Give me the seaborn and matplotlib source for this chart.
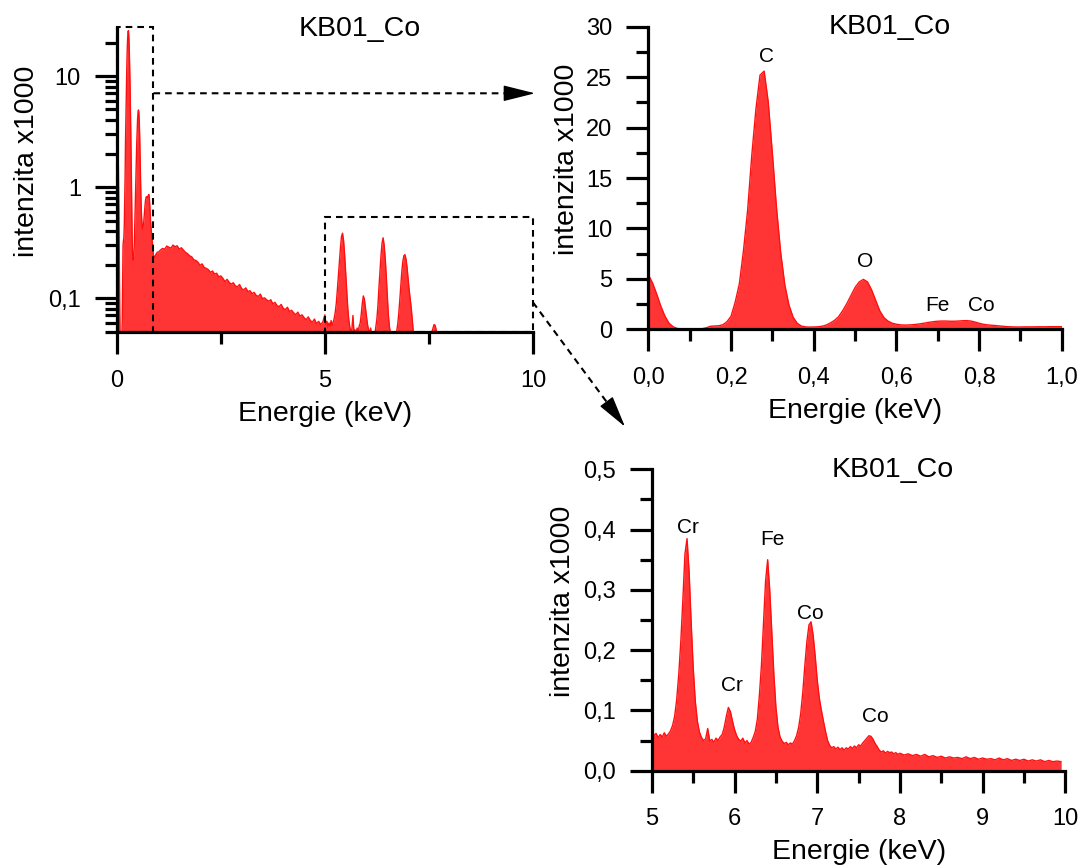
import numpy as np
import matplotlib
matplotlib.use("Agg")
import matplotlib.pyplot as plt
from matplotlib.patches import Rectangle, FancyArrowPatch
from matplotlib.lines import Line2D
from matplotlib.ticker import FixedLocator, MultipleLocator, LogLocator, FuncFormatter, NullFormatter
import seaborn as sns

# ---------------- spectrum data (intensity x1000) ----------------
# 0.00 - 1.00 keV, 0.01 keV channels
energy_low = np.round(np.arange(101) * 0.01, 3)
counts_low = [
    5.4, 4.6, 3.5, 2.3, 1.3, 0.6, 0.25, 0.08, 0.04, 0.035,
    0.035, 0.035, 0.04, 0.06, 0.15, 0.3, 0.33, 0.35, 0.45, 0.75,
    1.3, 2.7, 4.5, 7.8, 11.8, 17.2, 21.8, 25.2, 25.6, 22.5,
    17.4, 12.0, 7.6, 4.4, 2.4, 1.2, 0.6, 0.32, 0.24, 0.22,
    0.23, 0.25, 0.3, 0.42, 0.62, 0.88, 1.25, 1.85, 2.55, 3.35,
    4.15, 4.7, 4.95, 4.7, 3.9, 2.85, 1.8, 1.15, 0.8, 0.6,
    0.5, 0.44, 0.42, 0.43, 0.46, 0.5, 0.56, 0.63, 0.7, 0.76,
    0.8, 0.82, 0.82, 0.8, 0.8, 0.82, 0.85, 0.86, 0.82, 0.72,
    0.6, 0.5, 0.44, 0.4, 0.37, 0.33, 0.29, 0.26, 0.24, 0.23,
    0.23, 0.24, 0.24, 0.24, 0.25, 0.25, 0.25, 0.26, 0.26, 0.26,
    0.26,
]

# 1.05 - 4.95 keV bremsstrahlung continuum, 0.05 keV channels
energy_mid = np.round(1.05 + np.arange(79) * 0.05, 3)
counts_mid = [
    0.272, 0.281, 0.276, 0.295, 0.288, 0.283, 0.301, 0.291, 0.297, 0.276,
    0.285, 0.272, 0.259, 0.252, 0.241, 0.236, 0.222, 0.219, 0.211, 0.198,
    0.204, 0.189, 0.186, 0.181, 0.171, 0.176, 0.165, 0.168, 0.156, 0.159,
    0.151, 0.141, 0.148, 0.139, 0.134, 0.138, 0.129, 0.127, 0.133, 0.122,
    0.119, 0.124, 0.115, 0.117, 0.110, 0.113, 0.106, 0.104, 0.109, 0.099,
    0.101, 0.097, 0.094, 0.097, 0.089, 0.092, 0.086, 0.084, 0.088, 0.081,
    0.079, 0.083, 0.076, 0.078, 0.074, 0.071, 0.075, 0.069, 0.071, 0.067,
    0.064, 0.068, 0.063, 0.061, 0.065, 0.059, 0.062, 0.058, 0.061,
]

# 5.000 - 8.000 keV, 0.025 keV channels
energy_high = np.round(5.0 + np.arange(121) * 0.025, 3)
counts_high = [
    0.071, 0.058, 0.062, 0.055, 0.060, 0.056, 0.063, 0.057, 0.061, 0.066,
    0.075, 0.090, 0.118, 0.160, 0.215, 0.285, 0.360, 0.385, 0.330, 0.245,
    0.170, 0.115, 0.082, 0.064, 0.055, 0.050, 0.053, 0.070, 0.049, 0.052,
    0.047, 0.054, 0.050, 0.056, 0.060, 0.072, 0.090, 0.105, 0.098, 0.082,
    0.068, 0.058, 0.052, 0.049, 0.054, 0.046, 0.050, 0.044, 0.047, 0.055,
    0.065, 0.085, 0.125, 0.175, 0.245, 0.315, 0.350, 0.300, 0.230, 0.160,
    0.105, 0.072, 0.056, 0.049, 0.045, 0.047, 0.043, 0.046, 0.044, 0.050,
    0.058, 0.072, 0.095, 0.130, 0.175, 0.215, 0.242, 0.247, 0.225, 0.190,
    0.150, 0.120, 0.100, 0.082, 0.065, 0.050, 0.042, 0.038, 0.040, 0.036,
    0.039, 0.035, 0.038, 0.034, 0.038, 0.036, 0.040, 0.037, 0.041, 0.038,
    0.043, 0.041, 0.046, 0.050, 0.054, 0.058, 0.057, 0.052, 0.045, 0.040,
    0.034, 0.031, 0.033, 0.029, 0.032, 0.030, 0.031, 0.028, 0.030, 0.027,
    0.029,
]

# 8.05 - 9.95 keV tail, 0.05 keV channels
energy_tail = np.round(8.05 + np.arange(39) * 0.05, 3)
counts_tail = [
    0.026, 0.028, 0.025, 0.027, 0.024, 0.027, 0.023, 0.025, 0.022, 0.024,
    0.021, 0.023, 0.021, 0.022, 0.020, 0.023, 0.020, 0.022, 0.019, 0.021,
    0.019, 0.020, 0.018, 0.021, 0.018, 0.020, 0.017, 0.019, 0.017, 0.019,
    0.016, 0.018, 0.016, 0.018, 0.015, 0.017, 0.015, 0.016, 0.015,
]

# peak labels: (text, energy keV, label baseline height)
labels_low = [("C", 0.286, 26.5), ("O", 0.524, 6.2), ("Fe", 0.700, 1.84), ("Co", 0.805, 1.84)]
labels_high = [("Cr", 5.434, 0.394), ("Cr", 5.971, 0.132), ("Fe", 6.463, 0.374),
               ("Co", 6.918, 0.252), ("Co", 7.704, 0.081)]

sample_name = "KB01_Co"
x_label = "Energie (keV)"
y_label = "intenzita x1000"

# ---------------- style ----------------
sns.set_theme(style="ticks", rc={
    "axes.edgecolor": "black", "text.color": "black", "axes.labelcolor": "black",
    "xtick.color": "black", "ytick.color": "black",
})
plt.rcParams["font.family"] = ["Liberation Sans", "DejaVu Sans"]

FILL = "#ff3535"
EDGE = "#ff1010"
W, H = 1084, 867
BIG, TICK, PEAK = 20.5, 17, 15

fig = plt.figure(figsize=(W / 100, H / 100), dpi=100)
ax1 = fig.add_axes([0.10775, 0.61673, 0.38386, 0.35063])
ax2 = fig.add_axes([0.59815, 0.62018, 0.38137, 0.34902])
ax3 = fig.add_axes([0.60138, 0.11107, 0.38137, 0.34764])


def comma(fmt):
    return FuncFormatter(lambda v, p: fmt.format(v).replace(".", ","))


def draw_spectrum(ax, x, y, base):
    x = np.asarray(x, float)
    y = np.asarray(y, float)
    ax.fill_between(x, y, base, color=FILL, lw=0, zorder=1)
    sns.lineplot(x=x, y=y, ax=ax, color=EDGE, lw=1.0, estimator=None, sort=False, zorder=2)


def style_axes(ax, ylab_x):
    sns.despine(ax=ax)
    for s in ("left", "bottom"):
        ax.spines[s].set_linewidth(2.3)
    ax.tick_params(which="major", direction="out", length=15.8, width=2.3,
                   labelsize=TICK, pad=11)
    ax.tick_params(axis="y", which="major", pad=10)
    ax.tick_params(which="minor", direction="out", length=8.4, width=2.3)
    ax.set_xlabel(x_label, fontsize=BIG)
    ax.set_ylabel(y_label, fontsize=BIG)
    ax.xaxis.label.set_va("baseline")
    ax.xaxis.set_label_coords(0.5, -0.293)
    ax.yaxis.label.set_va("baseline")
    ax.yaxis.set_label_coords(ylab_x, 0.563)
    ax.text(0.583, 0.976, sample_name, transform=ax.transAxes, ha="center",
            va="baseline", fontsize=BIG)


# ---- full spectrum, logarithmic ----
e_all = np.concatenate([energy_low, energy_mid, energy_high, energy_tail])
c_all = np.concatenate([counts_low, counts_mid, counts_high, counts_tail])
draw_spectrum(ax1, e_all, c_all, 1e-3)
ax1.set_yscale("log")
ax1.set_xlim(0, 10)
ax1.set_ylim(0.0494, 26.9)
ax1.xaxis.set_major_locator(FixedLocator([0, 5, 10]))
ax1.xaxis.set_minor_locator(FixedLocator([2.5, 7.5]))
ax1.xaxis.set_major_formatter(comma("{:g}"))
ax1.yaxis.set_major_locator(FixedLocator([0.1, 1, 10]))
ax1.yaxis.set_minor_locator(LogLocator(base=10, subs=np.arange(2, 10)))
ax1.yaxis.set_major_formatter(comma("{:g}"))
ax1.yaxis.set_minor_formatter(NullFormatter())
style_axes(ax1, -0.199)

# ---- 0-1 keV detail ----
draw_spectrum(ax2, energy_low, counts_low, 0)
ax2.set_xlim(0, 1.0)
ax2.set_ylim(0, 30)
ax2.xaxis.set_major_locator(MultipleLocator(0.2))
ax2.xaxis.set_minor_locator(MultipleLocator(0.1))
ax2.xaxis.set_major_formatter(comma("{:.1f}"))
ax2.yaxis.set_major_locator(MultipleLocator(5))
ax2.yaxis.set_minor_locator(MultipleLocator(2.5))
ax2.yaxis.set_major_formatter(comma("{:g}"))
style_axes(ax2, -0.18)
for txt, ex, yy in labels_low:
    ax2.text(ex, yy, txt, ha="center", va="baseline", fontsize=PEAK)

# ---- 5-10 keV detail ----
e_hi = np.concatenate([energy_high, energy_tail])
c_hi = np.concatenate([counts_high, counts_tail])
draw_spectrum(ax3, e_hi, c_hi, 0)
ax3.set_xlim(5, 10)
ax3.set_ylim(0, 0.5)
ax3.xaxis.set_major_locator(MultipleLocator(1))
ax3.xaxis.set_minor_locator(MultipleLocator(0.5))
ax3.xaxis.set_major_formatter(comma("{:g}"))
ax3.yaxis.set_major_locator(MultipleLocator(0.1))
ax3.yaxis.set_minor_locator(MultipleLocator(0.05))
ax3.yaxis.set_major_formatter(comma("{:.1f}"))
style_axes(ax3, -0.197)
for txt, ex, yy in labels_high:
    ax3.text(ex, yy, txt, ha="center", va="baseline", fontsize=PEAK)

# ---- zoom boxes and connecting arrows ----
dash = (0, (3.2, 2.4))
y_floor = 0.0494
box_low = Rectangle((0, y_floor), 0.88, 27.7 - y_floor, fill=False, ec="black",
                    lw=1.5, ls=dash, clip_on=False, zorder=5)
box_high = Rectangle((5, y_floor), 5, 0.54 - y_floor, fill=False, ec="black",
                     lw=1.5, ls=dash, clip_on=False, zorder=5)
ax1.add_patch(box_low)
ax1.add_patch(box_high)

HEAD_PX = 27.8


def dashed_arrow(start_data, tip_px):
    """Dashed shaft from a point of the log panel to a tip given in image pixels."""
    p0 = ax1.transData.transform(start_data)
    p1 = np.array([tip_px[0], H - tip_px[1]], float)
    d = (p1 - p0) / np.hypot(*(p1 - p0))
    base = p1 - d * HEAD_PX
    fig.add_artist(Line2D([p0[0] / W, base[0] / W], [p0[1] / H, base[1] / H],
                          transform=fig.transFigure, color="black", lw=1.5, ls=dash))
    fig.add_artist(FancyArrowPatch((base[0] / W, base[1] / H), (p1[0] / W, p1[1] / H),
                                   transform=fig.transFigure,
                                   arrowstyle="-|>,head_length=1.0,head_width=0.25",
                                   mutation_scale=20, lw=1.0, color="black",
                                   shrinkA=0, shrinkB=0))


dashed_arrow((0.88, 7.0), (535, 93.3))
dashed_arrow((10, 0.092), (625, 426.7))

fig.savefig("out.png", dpi=100, facecolor="white")
